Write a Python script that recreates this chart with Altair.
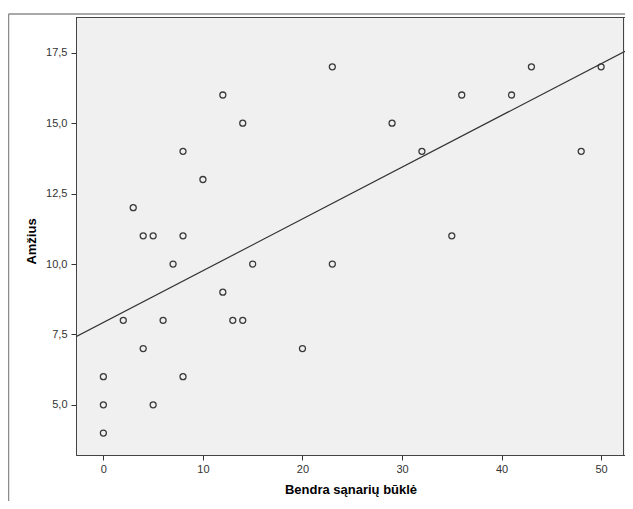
import altair as alt
import pandas as pd

# Data
x_vals = [0, 0, 0, 2, 3, 4, 5, 4, 5, 6, 7, 8, 8, 8, 10, 12, 12, 13, 14, 14, 15,
          20, 23, 23, 29, 32, 35, 36, 41, 43, 48, 50]
y_vals = [6, 5, 4, 8, 12, 11, 11, 7, 5, 8, 10, 14, 11, 6, 13, 16, 9, 8, 8, 15, 10,
          7, 17, 10, 15, 14, 11, 16, 16, 17, 14, 17]
x_ticks = [0, 10, 20, 30, 40, 50]
y_ticks = [5.0, 7.5, 10.0, 12.5, 15.0, 17.5]
x_domain = [-2.75, 52.4]
y_domain = [3.22, 18.77]
x_title = "Bendra sąnarių būklė"
y_title = "Amžius"

df = pd.DataFrame({"x": x_vals, "y": y_vals})

FONT = "Liberation Sans"
W, H = 549, 438

x_enc = alt.X(
    "x:Q",
    scale=alt.Scale(domain=x_domain, nice=False, zero=False),
    axis=alt.Axis(
        values=x_ticks, title=x_title, grid=False,
        domain=True, domainColor="#444", domainWidth=1,
        tickSize=5, tickColor="#333", tickWidth=1,
        labelFont=FONT, labelFontSize=11, labelColor="#333", labelPadding=3,
        titleFont=FONT, titleFontSize=13, titleFontWeight="bold", titleColor="#000",
        titleBaseline="alphabetic", titleY=38, titleAlign="center",
    ),
)
y_enc = alt.Y(
    "y:Q",
    scale=alt.Scale(domain=y_domain, nice=False, zero=False),
    axis=alt.Axis(
        values=y_ticks, title=y_title, grid=False,
        domain=True, domainColor="#444", domainWidth=1,
        tickSize=5, tickColor="#333", tickWidth=1,
        labelExpr="replace(format(datum.value, '.1f'), '.', ',')",
        labelFont=FONT, labelFontSize=11, labelColor="#333", labelPadding=4,
        titleFont=FONT, titleFontSize=13, titleFontWeight="bold", titleColor="#000",
        titleBaseline="alphabetic", titleAngle=-90, titleX=-41, titleY=224,
        titleAlign="center",
    ),
)

base = alt.Chart(df)

points = base.mark_point(
    shape="circle", filled=False, size=36, strokeWidth=1.3, color="#3a3a3a", opacity=1
).encode(x=x_enc, y=y_enc)

line = base.transform_regression(
    "x", "y", extent=x_domain
).mark_line(color="#333", strokeWidth=1.2, clip=True).encode(
    x=alt.X("x:Q"), y=alt.Y("y:Q")
)

frame_df = pd.DataFrame({"k": [0]})
frame_top = alt.Chart(frame_df).mark_rule(color="#8c8c8c", strokeWidth=1.5).encode(
    x=alt.value(-67.5), x2=alt.value(700), y=alt.value(-3)
)
frame_left = alt.Chart(frame_df).mark_rule(color="#8c8c8c", strokeWidth=1.5).encode(
    x=alt.value(-67.5), y=alt.value(-3), y2=alt.value(600)
)
border_top = alt.Chart(frame_df).mark_rule(color="#444", strokeWidth=1).encode(
    x=alt.value(0), x2=alt.value(W), y=alt.value(0.5)
)
border_right = alt.Chart(frame_df).mark_rule(color="#444", strokeWidth=1).encode(
    x=alt.value(W - 1.5), y=alt.value(0), y2=alt.value(H)
)

chart = alt.layer(
    points, line, frame_top, frame_left, border_top, border_right
).properties(
    width=W,
    height=H,
    background="white",
    autosize=alt.AutoSizeParams(type="none"),
    padding={"left": 68, "top": 9, "right": 0, "bottom": 46},
).configure_view(
    fill="#F0F0F0", stroke="#444", strokeWidth=1
)

chart.save("out.html", embed_options={"renderer": "svg", "actions": False})
